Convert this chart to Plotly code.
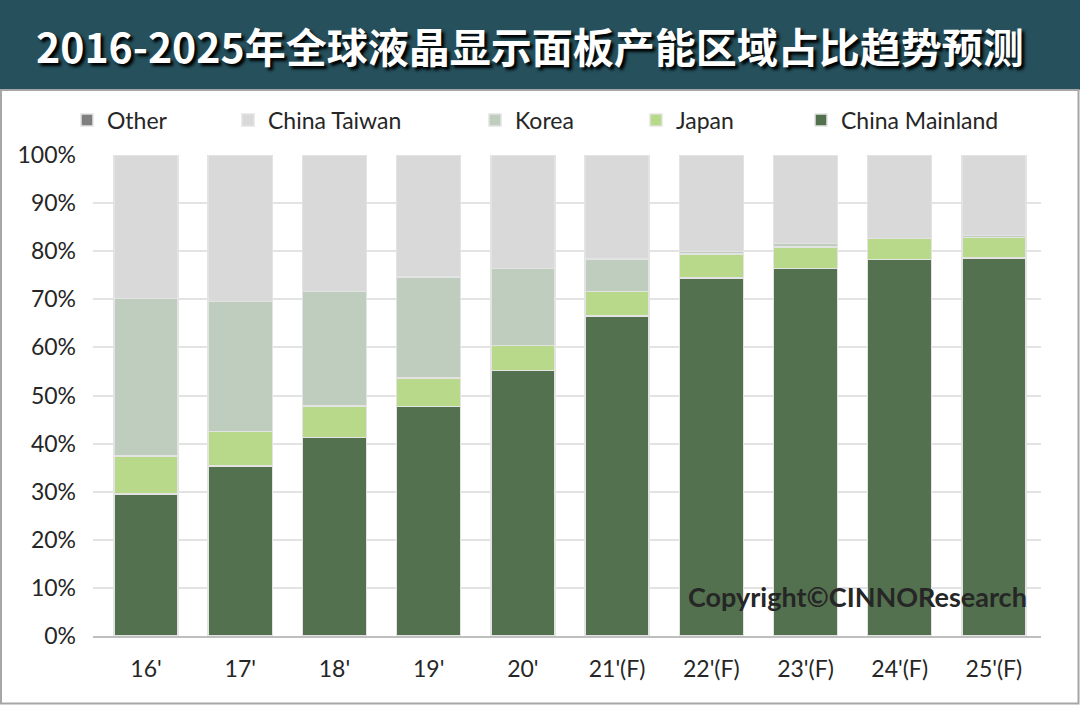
import plotly.graph_objects as go

categories = ["16'", "17'", "18'", "19'", "20'", "21'(F)", "22'(F)", "23'(F)", "24'(F)", "25'(F)"]
china_mainland = [29.5, 35.3, 41.3, 47.7, 55.2, 66.5, 74.4, 76.4, 78.3, 78.6]
japan = [7.9, 7.2, 6.5, 5.9, 5.2, 5.1, 5.0, 4.5, 4.3, 4.3]
korea = [32.8, 27.0, 23.8, 21.0, 16.0, 6.8, 0.5, 0.7, 0.0, 0.4]
china_taiwan = [29.8, 30.5, 28.4, 25.4, 23.6, 21.6, 20.1, 18.4, 17.4, 16.7]
other = [0, 0, 0, 0, 0, 0, 0, 0, 0, 0]
y_ticks = [0, 10, 20, 30, 40, 50, 60, 70, 80, 90, 100]

series = [
    ("China Mainland", china_mainland, "#53714f", "legend5"),
    ("Japan", japan, "#b9d98a", "legend4"),
    ("Korea", korea, "#bfcdbf", "legend3"),
    ("China Taiwan", china_taiwan, "#d9d9d9", "legend2"),
    ("Other", other, "#7f7f7f", "legend"),
]

W, H = 1080, 706
L, R, T, B = 93, 39, 155, 70
pw = W - L - R
ph = H - T - B

def px(x):
    return (x - L) / pw

def py(y):
    return (H - B - y) / ph

fig = go.Figure()
for name, vals, color, lg in series:
    fig.add_trace(go.Bar(
        x=categories, y=vals, name=name, legend=lg,
        marker=dict(color=color, line=dict(color="#e3e3e3", width=1.5)),
    ))

font_main = "Lato, 'Noto Sans', sans-serif"
legend_pos = {"legend": 67, "legend2": 228, "legend3": 475, "legend4": 636, "legend5": 801}
layout_legends = {}
for key, xp in legend_pos.items():
    layout_legends[key] = dict(
        orientation="h", x=px(xp), y=py(120), xanchor="left", yanchor="middle",
        font=dict(family=font_main, size=23, color="#262626"),
        bgcolor="rgba(0,0,0,0)", itemclick=False, itemdoubleclick=False,
        itemwidth=30,
    )

fig.update_layout(
    width=W, height=H,
    margin=dict(l=L, r=R, t=T, b=B),
    barmode="stack",
    bargap=0.32,
    paper_bgcolor="white",
    plot_bgcolor="white",
    font=dict(family=font_main, size=23, color="#262626"),
    showlegend=True,
    **layout_legends,
    xaxis=dict(
        range=[-0.563, 9.5],
        showgrid=False, showline=True, linecolor="#bfbfbf", linewidth=1.5,
        ticks="", tickfont=dict(family=font_main, size=23, color="#262626"),
        ticklabelstandoff=12,
    ),
    yaxis=dict(
        range=[0, 100], tickvals=y_ticks, ticktext=[f"{v}%" for v in y_ticks],
        showgrid=True, gridcolor="#e3e3e3", gridwidth=1.5, zeroline=False,
        showline=False, ticks="",
        tickfont=dict(family=font_main, size=23, color="#262626"),
        ticklabelstandoff=16,
    ),
    shapes=[
        dict(type="rect", xref="paper", yref="paper",
             x0=px(0), x1=px(W), y0=py(90), y1=py(0),
             fillcolor="#25505c", line=dict(width=0), layer="below"),
        dict(type="rect", xref="paper", yref="paper",
             x0=px(1), x1=px(1078.5), y0=py(703.5), y1=py(90),
             fillcolor="rgba(0,0,0,0)", line=dict(color="#a6a6a6", width=2), layer="below"),
    ],
    annotations=[
        dict(text="2016-2025年全球液晶显示面板产能区域占比趋势预测",
             xref="paper", yref="paper", x=px(530), y=py(45),
             xanchor="center", yanchor="middle", showarrow=False,
             font=dict(family="Noto Sans CJK SC", size=41, color="white", weight="bold",
                       shadow="3px 3px 3px #000000")),
        dict(text="Copyright©CINNOResearch",
             xref="paper", yref="paper", x=px(857), y=py(596),
             xanchor="center", yanchor="middle", showarrow=False,
             font=dict(family=font_main, size=27, color="#262626", weight="bold")),
    ],
)

fig.write_html(
    "out.html",
    config={"displayModeBar": False},
    post_script="document.body.style.margin='0';document.body.style.overflow='hidden';",
)
